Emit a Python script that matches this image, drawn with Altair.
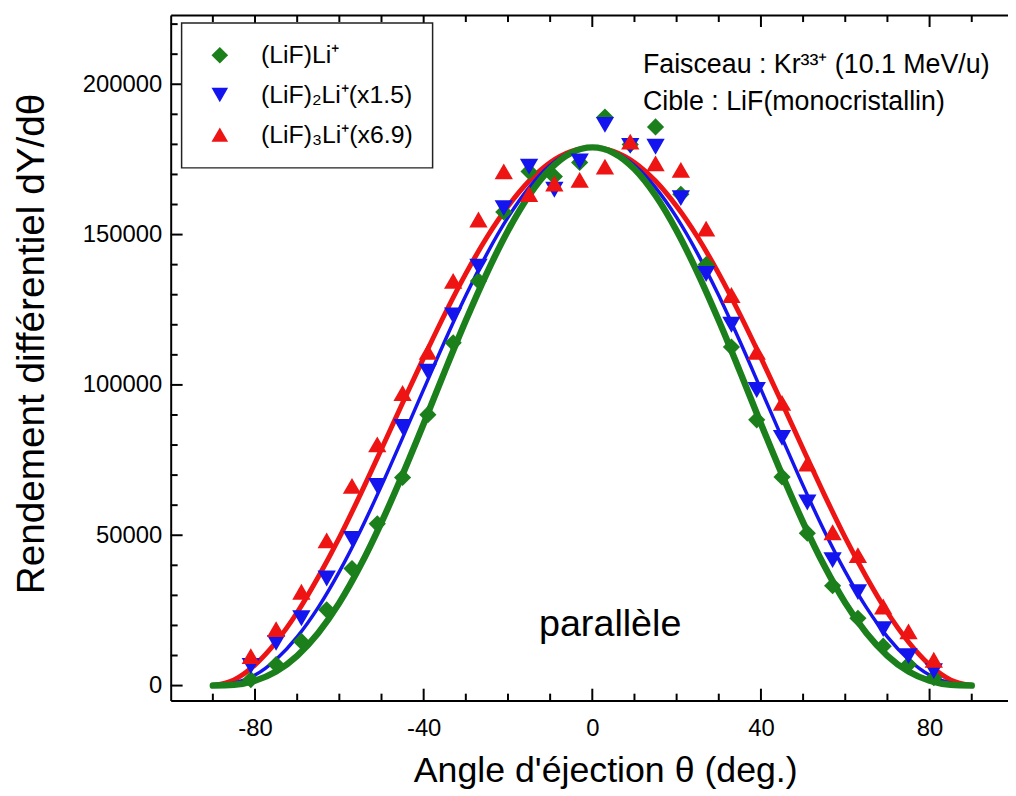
import altair as alt
import pandas as pd

# ---------------- data ----------------
angles = [-81, -75, -69, -63, -57, -51, -45, -39, -33, -27, -21, -15, -9, -3,
          3, 9, 15, 21, 27, 33, 39, 45, 51, 57, 63, 69, 75, 81]
green_pts = [2000, 7000, 14700, 25200, 38900, 53800, 69200, 90100, 114000, 134600,
             157500, 171000, 169300, 174000, 189100, 180000, 185800, 163400, 140000,
             112600, 88400, 69400, 50700, 33200, 22400, 13100, 7000, 2600]
blue_pts = [6500, 14200, 22400, 35600, 48800, 66400, 86000, 104400, 123100, 139300,
            158800, 172600, 164900, 174300, 186500, 179500, 179200, 162100, 136900,
            120000, 98300, 82400, 60900, 41700, 31100, 18800, 9800, 4800]
red_pts = [9800, 18800, 31200, 48300, 66400, 80200, 97300, 111000, 134600, 155000,
           171000, 163500, 167000, 168200, 172600, 180900, 173700, 171500, 152000,
           129900, 111000, 94000, 73800, 51000, 43400, 26300, 18000, 8600]

fit_angles = [-90, -85, -80, -75, -70, -65, -60, -55, -50, -45, -40, -35, -30, -25,
              -20, -15, -10, -5, 0, 5, 10, 15, 20, 25, 30, 35, 40, 45, 50, 55, 60,
              65, 70, 75, 80, 85, 90]
green_fit = [0, 250, 1600, 4650, 9900, 17500, 27500, 39900, 54300, 70200, 87100,
             104500, 121400, 137200, 151300, 163000, 171800, 177200, 179000, 177200,
             171800, 163000, 151300, 137200, 121400, 104500, 87100, 70200, 54300,
             39900, 27500, 17500, 9900, 4650, 1600, 250, 0]
blue_fit = [0, 760, 3500, 8700, 16200, 26000, 37900, 51500, 66500, 82400, 98500,
            114500, 129700, 143600, 155700, 165600, 173000, 177500, 179000, 177500,
            173000, 165600, 155700, 143600, 129700, 114500, 98500, 82400, 66500,
            51500, 37900, 26000, 16200, 8700, 3500, 760, 0]
red_fit = [0, 1900, 6900, 14500, 24300, 36100, 49200, 63600, 78700, 94000, 109000,
           123500, 137000, 149100, 159400, 167800, 174000, 177700, 179000, 177700,
           174000, 167800, 159400, 149100, 137000, 123500, 109000, 94000, 78700,
           63600, 49200, 36100, 24300, 14500, 6900, 1900, 0]

series_names = ["(LiF)Li\u207a", "(LiF)\u2082Li\u207a(x1.5)", "(LiF)\u2083Li\u207a(x6.9)"]
series_colors = ["#1b7f1b", "#1414ee", "#ee1414"]
series_shapes = ["diamond", "triangle-down", "triangle-up"]

x_major = [-80, -40, 0, 40, 80]
x_minor = [-90, -70, -60, -50, -30, -20, -10, 10, 20, 30, 50, 60, 70, 90]
y_major = [0, 50000, 100000, 150000, 200000]
y_minor = [10000, 20000, 30000, 40000, 60000, 70000, 80000, 90000, 110000, 120000,
           130000, 140000, 160000, 170000, 180000, 190000, 210000, 220000]

beam_text = "Faisceau : Kr\u00b3\u00b3\u207a (10.1 MeV/u)"
target_text = "Cible : LiF(monocristallin)"
mode_text = "parallèle"
x_title = "Angle d'éjection θ (deg.)"
y_title = "Rendement différentiel dY/dθ"

# ---------------- tables ----------------
def pts_df(vals, name):
    return pd.DataFrame({"angle": angles, "value": vals, "series": name})

def fit_df(vals):
    return pd.DataFrame({"angle": fit_angles, "value": vals})

# ---------------- layout ----------------
W, H = 844, 691
XD = [-100, 98.6]
YD = [-5000, 223000]
FONT = "Liberation Sans"
MAJ, MIN = 12, 7
xscale = alt.Scale(domain=XD, nice=False, zero=False)
yscale = alt.Scale(domain=YD, nice=False, zero=False)

common = dict(grid=False, labelFont=FONT, titleFont=FONT)

ax_x_main = alt.Axis(orient="bottom", values=x_major, ticks=False, domain=True,
                     domainColor="black", domainWidth=2, labelFontSize=24,
                     labelPadding=16, labelColor="black", labelExpr="'' + datum.value",
                     title=x_title, titleFontSize=36, titlePadding=14, titleX=438,
                     titleColor="black", titleFontWeight="normal", **common)
ax_y_main = alt.Axis(orient="left", values=y_major, ticks=False, domain=True,
                     domainColor="black", domainWidth=2, labelFontSize=24,
                     labelPadding=9, labelColor="black", labelExpr="'' + datum.value",
                     title=y_title, titleFontSize=39, titlePadding=31, titleY=331,
                     titleColor="black", titleFontWeight="normal", **common)
# top frame line (axis domain only)
ax_x_top = alt.Axis(orient="bottom", offset=-H, values=x_major, ticks=False,
                    labels=False, domain=True, domainColor="black", domainWidth=2,
                    title=None, **common)

legend = alt.Legend(orient="none", legendX=11, legendY=8, title=None,
                    symbolSize=280, labelFontSize=25, labelFont=FONT,
                    labelColor="black", padding=20, rowPadding=14,
                    symbolOffset=6, labelOffset=29, strokeColor="#222222",
                    fillColor="white", symbolOpacity=1, labelLimit=400)

color_enc = alt.Color("series:N", scale=alt.Scale(domain=series_names, range=series_colors),
                      legend=legend)
shape_enc = alt.Shape("series:N", scale=alt.Scale(domain=series_names, range=series_shapes),
                      legend=legend)


def line_layer(vals, color, width, xax, yax):
    return alt.Chart(fit_df(vals)).mark_line(
        color=color, strokeWidth=width, interpolate="monotone", strokeCap="round"
    ).encode(
        x=alt.X("angle:Q", scale=xscale, axis=xax),
        y=alt.Y("value:Q", scale=yscale, axis=yax),
    )


def point_layer(vals, name, size):
    return alt.Chart(pts_df(vals, name)).mark_point(
        filled=True, opacity=1, size=size, strokeWidth=0
    ).encode(
        x=alt.X("angle:Q", scale=xscale, axis=None),
        y=alt.Y("value:Q", scale=yscale, axis=None),
        color=color_enc,
        shape=shape_enc,
    )


# inward tick marks: line-shaped symbols placed on the frame edges
def tick_layer(xs, ys, length, path):
    df = pd.DataFrame({"angle": xs, "value": ys})
    return alt.Chart(df).mark_point(
        shape=path, size=(2 * length) ** 2, filled=False, strokeWidth=2, opacity=1
    ).encode(
        x=alt.X("angle:Q", scale=xscale, axis=None),
        y=alt.Y("value:Q", scale=yscale, axis=None),
        color=alt.value("black"),
    )


ticks = [
    tick_layer(x_major, [YD[0]] * len(x_major), MAJ, "M0,0L0,-1"),
    tick_layer(x_minor, [YD[0]] * len(x_minor), MIN, "M0,0L0,-1"),
    tick_layer(x_major, [YD[1]] * len(x_major), MAJ, "M0,0L0,1"),
    tick_layer(x_minor, [YD[1]] * len(x_minor), MIN, "M0,0L0,1"),
    tick_layer([XD[0]] * len(y_major), y_major, MAJ, "M0,0L1,0"),
    tick_layer([XD[0]] * len(y_minor), y_minor, MIN, "M0,0L1,0"),
]

red_line = line_layer(red_fit, series_colors[2], 5, ax_x_main, ax_y_main)
blue_line = line_layer(blue_fit, series_colors[1], 3.5, ax_x_top, None)
green_line = line_layer(green_fit, series_colors[0], 6.5, None, None)

green_p = point_layer(green_pts, series_names[0], 300)
blue_p = point_layer(blue_pts, series_names[1], 340)
red_p = point_layer(red_pts, series_names[2], 340)


def text_layer(txt, x, y, size, align="left"):
    return alt.Chart(pd.DataFrame({"t": [txt]})).mark_text(
        font=FONT, fontSize=size, align=align, baseline="alphabetic", color="black"
    ).encode(text="t:N", x=alt.value(x), y=alt.value(y))


t1 = text_layer(beam_text, 476, 58, 27)
t2 = text_layer(target_text, 476, 96, 27)
t3 = text_layer(mode_text, 443, 626, 38, align="center")

chart = alt.layer(
    red_line, blue_line, green_line, *ticks, green_p, blue_p, red_p, t1, t2, t3
).resolve_axis(
    x="independent", y="independent"
).properties(
    width=W, height=H,
    autosize=alt.AutoSizeParams(type="none"),
    padding={"left": 164, "top": 4, "right": 0, "bottom": 92},
    background="white",
).configure_view(
    stroke="transparent"
).configure_legend(
    strokeWidth=1.5
)

chart.save("out.html", embed_options={"renderer": "svg", "actions": False})
